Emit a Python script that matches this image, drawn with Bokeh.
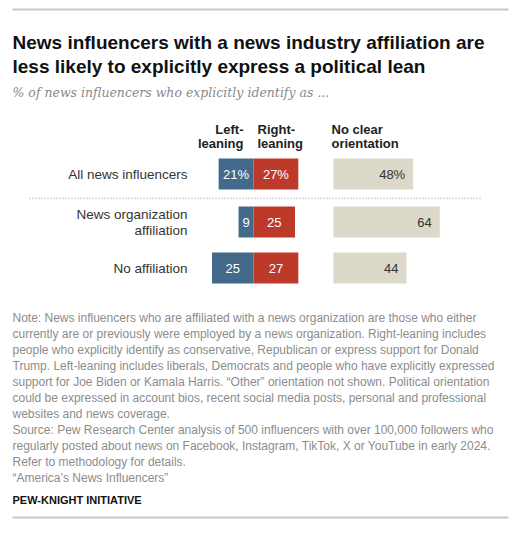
from bokeh.plotting import figure
from bokeh.models import Range1d, ColumnDataSource
from bokeh.core.properties import value
from bokeh.embed import file_html
from bokeh.resources import INLINE

# ---- data ----
categories = ["All news influencers", "News organization\naffiliation", "No affiliation"]
left_leaning = [21, 9, 25]
right_leaning = [27, 25, 27]
no_clear = [48, 64, 44]
left_labels = ["21%", "9", "25"]
right_labels = ["27%", "25", "27"]
noclear_labels = ["48%", "64", "44"]

title_lines = ["News influencers with a news industry affiliation are",
               "less likely to explicitly express a political lean"]
subtitle = "% of news influencers who explicitly identify as ..."
note_lines = [
    "Note: News influencers who are affiliated with a news organization are those who either",
    "currently are or previously were employed by a news organization. Right-leaning includes",
    "people who explicitly identify as conservative, Republican or express support for Donald",
    "Trump. Left-leaning includes liberals, Democrats and people who have explicitly expressed",
    "support for Joe Biden or Kamala Harris. \u201cOther\u201d orientation not shown. Political orientation",
    "could be expressed in account bios, recent social media posts, personal and professional",
    "websites and news coverage.",
    "Source: Pew Research Center analysis of 500 influencers with over 100,000 followers who",
    "regularly posted about news on Facebook, Instagram, TikTok, X or YouTube in early 2024.",
    "Refer to methodology for details.",
    "\u201cAmerica\u2019s News Influencers\u201d",
]
brand = "PEW-KNIGHT INITIATIVE"

BLUE = "#436a8a"
RED = "#bd3a2a"
BEIGE = "#dcd8ca"

W, H = 509, 519

p = figure(width=W, height=H, output_backend="svg", toolbar_location=None,
           x_range=Range1d(0, W), y_range=Range1d(H, 0),
           min_border=0, min_border_left=0, min_border_right=0,
           min_border_top=0, min_border_bottom=0)
p.axis.visible = False
p.grid.visible = False
p.outline_line_color = None
p.background_fill_color = "white"

SANS = value("Liberation Sans")

# rules
p.segment(x0=[12, 12], x1=[508, 508], y0=[9, 517], y1=[9, 517],
          line_color="#c8c8c8", line_width=2)

# title
p.text(x=[12, 12], y=[42, 66], text=title_lines, text_font=SANS,
       text_font_size="19px", text_font_style="bold", text_color="#111111",
       text_baseline="alphabetic", text_align="left")
p.text(x=[12], y=[92], text=[subtitle], text_font=value("DejaVu Serif"),
       text_font_size="12.5px", text_font_style="italic", text_color="#8a8a8a",
       text_baseline="alphabetic", text_align="left")

# column headers
HF = "13px"
p.text(x=[243, 243], y=[129, 143], text=["Left-", "leaning"], text_font=SANS,
       text_font_size=HF, text_font_style="bold", text_color="#222222",
       text_align="right", text_baseline="alphabetic")
p.text(x=[257, 257], y=[129, 143], text=["Right-", "leaning"], text_font=SANS,
       text_font_size=HF, text_font_style="bold", text_color="#222222",
       text_align="left", text_baseline="alphabetic")
p.text(x=[331, 331], y=[129, 143], text=["No clear", "orientation"], text_font=SANS,
       text_font_size=HF, text_font_style="bold", text_color="#222222",
       text_align="left", text_baseline="alphabetic")

# bars
K = 1.66      # px per percentage point
ZERO = 253    # divider between left and right leaning
GRAY0 = 333   # start of no-clear bars
rows = [173.5, 221.5, 267.5]
BH = 31

lft = [ZERO - v * K for v in left_leaning]
rgt = [ZERO + v * K for v in right_leaning]
gry = [GRAY0 + v * K for v in no_clear]

src = ColumnDataSource(dict(y=rows, lft=lft, zero=[ZERO] * 3, rgt=rgt, g0=[GRAY0] * 3, gry=gry,
                            lc=[(a + ZERO) / 2 for a in lft], rc=[(b + ZERO) / 2 for b in rgt],
                            gl=[g - 8 for g in gry],
                            ll=left_labels, rl=right_labels, nl=noclear_labels))
p.hbar(y="y", left="lft", right="zero", height=BH, fill_color=BLUE, line_color=None, source=src)
p.hbar(y="y", left="zero", right="rgt", height=BH, fill_color=RED, line_color=None, source=src)
p.hbar(y="y", left="g0", right="gry", height=BH, fill_color=BEIGE, line_color=None, source=src)

p.text(x="lc", y="y", text="ll", source=src, text_font=SANS, text_font_size="13px",
       text_color="white", text_align="center", text_baseline="middle")
p.text(x="rc", y="y", text="rl", source=src, text_font=SANS, text_font_size="13px",
       text_color="white", text_align="center", text_baseline="middle")
p.text(x="gl", y="y", text="nl", source=src, text_font=SANS, text_font_size="13px",
       text_color="#333333", text_align="right", text_baseline="middle")

# category labels
cat_x = []
cat_y = []
cat_t = []
for c, yy in zip(categories, rows):
    parts = c.split("\n")
    n = len(parts)
    for i, part in enumerate(parts):
        cat_x.append(187)
        cat_y.append(yy + (i - (n - 1) / 2) * 16)
        cat_t.append(part)
p.text(x=cat_x, y=cat_y, text=cat_t, text_font=SANS, text_font_size="13.5px",
       text_color="#333333", text_align="right", text_baseline="middle")

# dotted separator
p.segment(x0=[29], x1=[482], y0=[198], y1=[198],
          line_color="#b0b0b0", line_width=1.5, line_dash="1 2")

# notes
p.text(x=[12] * len(note_lines), y=[317 + 16 * i for i in range(len(note_lines))],
       text=note_lines, text_font=SANS, text_font_size="12px", text_color="#8c8c8c",
       text_align="left", text_baseline="middle")
p.text(x=[12], y=[499], text=[brand], text_font=SANS, text_font_size="11px",
       text_font_style="bold", text_color="#111111", text_align="left", text_baseline="middle")

open("out.html", "w").write(file_html(p, INLINE))
